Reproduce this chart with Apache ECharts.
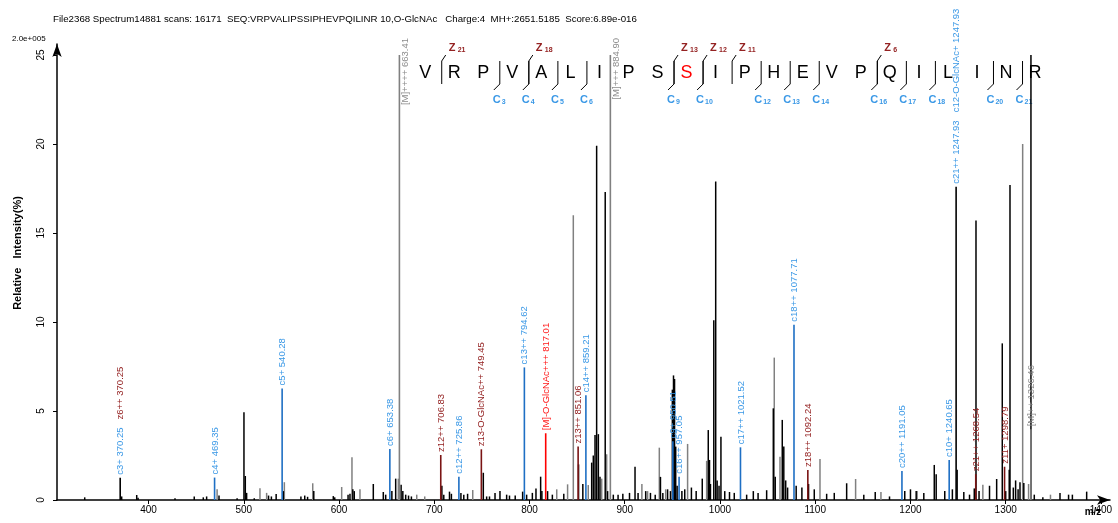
<!DOCTYPE html>
<html><head><meta charset="utf-8">
<script src="https://cdn.jsdelivr.net/npm/echarts@6/dist/echarts.min.js"></script>
<style>html,body{margin:0;padding:0;background:#fff}#c{width:1118px;height:523px}</style>
</head><body><div id="c"></div>
<script>
// ---------------- DATA ----------------
const titleText = "File2368 Spectrum14881 scans: 16171  SEQ:VRPVALIPSSIPHEVPQILINR 10,O-GlcNAc   Charge:4  MH+:2651.5185  Score:6.89e-016";
const scaleText = "2.0e+005";
const yAxisTitle = "Relative   Intensity(%)";
const xAxisTitle = "m/z";
const xTicks = [400, 500, 600, 700, 800, 900, 1000, 1100, 1200, 1300, 1400];
const yTicks = [0, 5, 10, 15, 20, 25];
const sequence = ["V","R","P","V","A","L","I","P","S","S","I","P","H","E","V","P","Q","I","L","I","N","R"];
const modifiedResidue = 10;           // 1-based, O-GlcNAc site
const cIons = [3, 4, 5, 6, 9, 10, 12, 13, 14, 16, 17, 18, 20, 21];
const zIons = [21, 18, 13, 12, 11, 6];

// unannotated peaks (m/z, relative intensity %)
const blackMz = [333,371.8,387.6,389,427.8,448,457.5,461,474,493,500.2,501.6,503,511,526,529,534,541.5,560,564,567,573.5,594,595.5,609.5,611.5,614.5,616,636,646.5,649,655.5,659.5,665.2,667,670,673,676,708,710,716,718,728,731,735,751.5,755,758,763.8,769,776,779,785,792.8,797,803,806.8,811.7,813,819,824,836,851.5,856,865.3,867,868.8,870.5,872.3,874,879.5,882,888,893,898,905,910.8,914,922,927,932,937.5,940,945,948,950.0,951.2,952.3,953.5,955,960,963,970,975,981.4,987.7,989,990,993.5,995.5,997,999,1001,1005,1010,1015,1028,1035,1040,1049,1056,1058,1065.4,1067,1069,1071,1080,1086,1093,1099,1112,1120,1133,1151,1163,1178,1194,1200,1206,1214,1225,1227,1236,1244,1249,1256,1262,1267,1268.8,1272,1283,1290.5,1296.4,1300,1303.7,1304.5,1308,1310.4,1313,1315,1319,1326.5,1330,1339,1357,1366,1370,1385];
const blackInt = [0.15,0.2,0.28,0.12,0.1,0.2,0.15,0.2,0.25,0.1,4.93,1.35,0.4,0.1,0.25,0.2,0.34,0.5,0.2,0.25,0.18,0.5,0.22,0.15,0.3,0.35,0.6,0.5,0.9,0.45,0.3,0.5,1.2,0.85,0.5,0.3,0.25,0.2,0.8,0.3,0.47,0.35,0.4,0.3,0.35,1.53,0.2,0.2,0.4,0.5,0.3,0.25,0.25,0.47,0.3,0.4,0.65,1.31,0.5,0.5,0.3,0.35,2.0,0.9,2.1,2.5,3.65,19.9,3.7,1.3,17.3,0.5,0.3,0.3,0.35,0.4,1.87,0.4,0.5,0.4,0.3,1.3,0.4,0.6,0.5,6.2,7.0,6.8,3.0,0.8,0.5,0.6,0.7,0.5,1.2,3.93,2.25,0.9,10.1,17.9,1.1,0.8,3.56,0.5,0.45,0.4,0.3,0.5,0.4,0.55,5.15,1.3,4.5,3.0,1.1,0.7,0.8,0.7,0.9,0.6,0.35,0.4,0.94,0.3,0.45,0.2,0.5,0.6,0.5,0.4,1.97,1.45,0.5,0.6,1.7,0.45,0.3,0.65,15.7,0.5,0.8,1.18,8.8,0.5,1.7,17.7,0.7,1.1,0.6,1.0,0.95,25,0.3,0.15,0.4,0.3,0.3,0.47];
const grayMz = [472,517,524,542.6,572.4,602.8,613.6,622,662.3,681.6,690,740.4,828.6,840,846,861.7,875.8,881,918,924,936.3,943,966,986,1057,1063,1105,1142.4,1169,1207,1276,1317.8,1324,1347];
const grayInt = [0.6,0.66,0.4,1.0,0.94,0.73,2.4,0.6,1.2,0.3,0.2,0.56,0.6,0.88,16.0,0.84,1.2,2.57,0.9,0.5,2.94,0.6,3.15,2.2,8.0,2.43,2.3,1.18,0.45,0.5,0.85,20.0,0.9,0.3];

// annotated peaks
const annMz  = [370.25,469.35,540.28,653.38,663.41,706.83,725.86,749.45,794.62,817.01,851.06,859.21,884.90,950.51,957.05,1021.52,1077.71,1092.24,1191.05,1240.65,1247.93,1268.54,1298.79,1326.46];
const annInt = [1.25,1.26,6.27,2.87,25,2.53,1.31,2.85,7.45,3.75,3.0,5.88,25,3.3,1.31,2.96,9.85,1.69,1.63,2.25,17.6,1.45,1.87,3.97];
const annKind = ["other","c","c","c","M","z","c","z","c","red","z","c","M","c","c","c","c","z","c","c","other","z","z","M"];
const annLabels = [
  [["c","c3+ 370.25"],["z","z6++ 370.25"]],
  [["c","c4+ 469.35"]],
  [["c","c5+ 540.28"]],
  [["c","c6+ 653.38"]],
  [["M","[M]++++ 663.41"]],
  [["z","z12++ 706.83"]],
  [["c","c12++ 725.86"]],
  [["z","z13-O-GlcNAc++ 749.45"]],
  [["c","c13++ 794.62"]],
  [["red","[M]-O-GlcNAc+++ 817.01"]],
  [["z","z13++ 851.06"]],
  [["c","c14++ 859.21"]],
  [["M","[M]+++ 884.90"]],
  [["c","c9+ 950.51"]],
  [["c","c16++ 957.05"]],
  [["c","c17++ 1021.52"]],
  [["c","c18++ 1077.71"]],
  [["z","z18++ 1092.24"]],
  [["c","c20++ 1191.05"]],
  [["c","c10+ 1240.65"]],
  [["c","c21++ 1247.93"],["c","c12-O-GlcNAc+ 1247.93"]],
  [["z","z21++ 1268.54"]],
  [["z","z11+ 1298.79"]],
  [["M","[M]++ 1326.46"]]
];

// ---------------- STYLE ----------------
const FONT = '"Liberation Sans", Arial, sans-serif';
const lineColor = {other:"#000000", c:"#1e6fc4", z:"#7a1414", red:"#ff0000", M:"#808080"};
const labelColor = {c:"#3a98e6", z:"#942222", red:"#ff1a1a", M:"#8c8c8c"};
const CLIP = 25;
const labelFont = "9.5px " + FONT;
const measureCtx = document.createElement("canvas").getContext("2d");
function textW(t, f){ measureCtx.font = f; return measureCtx.measureText(t).width; }

const chart = echarts.init(document.getElementById("c"), null, {renderer:"canvas"});

function simplePeak(color){
  return function(params, api){
    const m = api.value(0), v = Math.min(api.value(1), CLIP);
    const p0 = api.coord([m, 0]), p1 = api.coord([m, v]);
    return {type:"line", shape:{x1:p0[0], y1:p0[1], x2:p1[0], y2:p1[1]}, style:{stroke:color, lineWidth:1.5}};
  };
}

function annRender(params, api){
  const i = api.value(2);
  const m = api.value(0), raw = api.value(1), v = Math.min(raw, CLIP);
  const p0 = api.coord([m, 0]), p1 = api.coord([m, v]);
  const children = [{type:"line", shape:{x1:p0[0], y1:p0[1], x2:p1[0], y2:p1[1]},
    style:{stroke:lineColor[annKind[i]], lineWidth:1.6}}];
  const labs = annLabels[i];
  let x = p0[0] + 0.5, y = p1[1] - 3;
  if (raw >= CLIP) { x = p0[0] + 6; y = 38 + textW(labs[0][1], labelFont); }
  labs.forEach(function(l){
    const w = textW(l[1], labelFont);
    children.push({type:"text", x:x, y:y, rotation:Math.PI/2,
      style:{text:l[1], fill:labelColor[l[0]], font:labelFont, align:"left", verticalAlign:"middle"}});
    y -= w + 8;
  });
  return {type:"group", children:children};
}

// sequence graphic
const seqX0 = 425.2, seqDx = 29.04, seqY = 73;
const graphics = [];
sequence.forEach(function(ch, k){
  graphics.push({type:"text", x:seqX0 + k*seqDx, y:seqY,
    style:{text:ch, fill:(k+1===modifiedResidue ? "#ff0000" : "#000000"), font:"18px " + FONT, align:"center", verticalAlign:"middle"}});
});
function bondX(n){ return seqX0 + (n - 0.5)*seqDx + 2; }
cIons.forEach(function(n){
  const bx = bondX(n);
  graphics.push({type:"polyline", shape:{points:[[bx,61],[bx,84],[bx-6,90]]}, style:{stroke:"#000", lineWidth:1, fill:null}});
  graphics.push({type:"text", x:bx-7, y:100, style:{text:"C", fill:labelColor.c, font:"bold 11px " + FONT, align:"left", verticalAlign:"middle"}});
  graphics.push({type:"text", x:bx+2, y:102, style:{text:String(n), fill:labelColor.c, font:"bold 7px " + FONT, align:"left", verticalAlign:"middle"}});
});
zIons.forEach(function(n){
  const bx = bondX(sequence.length - n);
  graphics.push({type:"polyline", shape:{points:[[bx+4,55],[bx,61],[bx,84]]}, style:{stroke:"#000", lineWidth:1, fill:null}});
  graphics.push({type:"text", x:bx+7, y:48, style:{text:"Z", fill:labelColor.z, font:"bold 11px " + FONT, align:"left", verticalAlign:"middle"}});
  graphics.push({type:"text", x:bx+16, y:50, style:{text:String(n), fill:labelColor.z, font:"bold 7px " + FONT, align:"left", verticalAlign:"middle"}});
});
graphics.push({type:"text", x:12, y:39, style:{text:scaleText, fill:"#000", font:"8px " + FONT, align:"left", verticalAlign:"middle"}});
graphics.push({type:"text", x:1093, y:512, style:{text:xAxisTitle, fill:"#000", font:"bold 10px " + FONT, align:"center", verticalAlign:"middle"}});
graphics.push({type:"text", x:18, y:253, rotation:Math.PI/2, style:{text:yAxisTitle, fill:"#000", font:"bold 11px " + FONT, align:"center", verticalAlign:"middle"}});

const option = {
  animation:false,
  backgroundColor:"#ffffff",
  title:{text:titleText, left:48, top:9, textStyle:{fontSize:9.7, fontWeight:"normal", color:"#000", fontFamily:FONT}},
  grid:{left:57, right:8, top:44, bottom:23, containLabel:false, outerBoundsMode:"none"},
  xAxis:{type:"value", min:303.9, max:1409.5, splitLine:{show:false},
    axisLine:{lineStyle:{color:"#000", width:1.5}, symbol:["none","arrow"], symbolSize:[7,13]},
    axisTick:{show:true, length:4, lineStyle:{color:"#000"}, customValues:xTicks},
    axisLabel:{color:"#000", fontSize:10, fontFamily:FONT, margin:5, customValues:xTicks,
      formatter:function(v){ return String(v); }}},
  yAxis:{type:"value", min:0, max:25.62, splitLine:{show:false},
    axisLine:{show:true, lineStyle:{color:"#000", width:1.5}, symbol:["none","arrow"], symbolSize:[7,13]},
    axisTick:{show:true, length:4, lineStyle:{color:"#000"}, customValues:yTicks},
    axisLabel:{color:"#000", fontSize:10, fontFamily:FONT, rotate:90, margin:11, customValues:yTicks,
      formatter:function(v){ return String(v); }}},
  graphic:graphics,
  series:[
    {type:"custom", renderItem:simplePeak("#808080"), data:grayMz.map(function(m,i){return [m, grayInt[i]];}), encode:{x:0,y:1}, clip:false, z:2, silent:true},
    {type:"custom", renderItem:simplePeak("#000000"), data:blackMz.map(function(m,i){return [m, blackInt[i]];}), encode:{x:0,y:1}, clip:false, z:3, silent:true},
    {type:"custom", renderItem:annRender, data:annMz.map(function(m,i){return [m, annInt[i], i];}), encode:{x:0,y:1}, clip:false, z:4, silent:true}
  ]
};
chart.setOption(option);
</script></body></html>
